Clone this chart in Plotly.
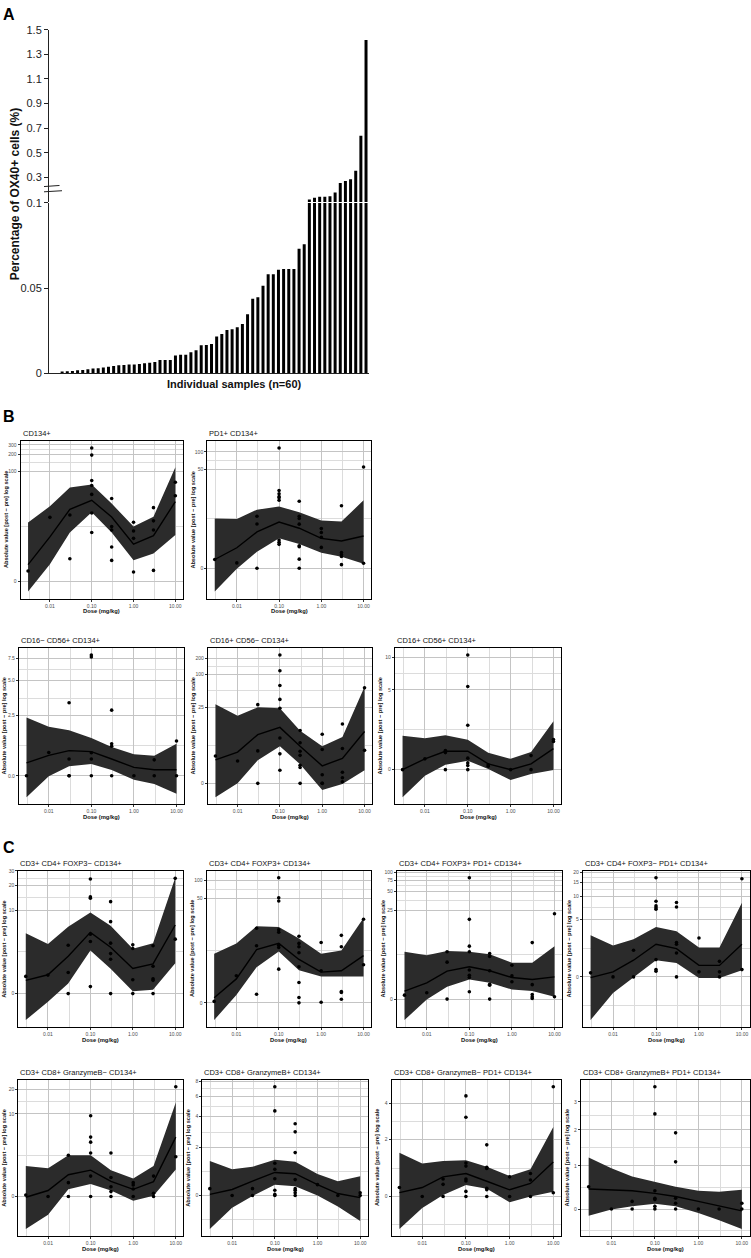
import numpy as np
import plotly.graph_objects as go

W, H = 751, 1258
FONT = "Liberation Sans, Arial, Helvetica, sans-serif"

# ---------------- Panel A data ----------------
ox40_percent = [0.0012, 0.0013, 0.0015, 0.0019, 0.0021, 0.0025, 0.0029, 0.0031, 0.0035, 0.0040,
                0.0044, 0.0048, 0.0050, 0.0052, 0.0052, 0.0056, 0.0060, 0.0063, 0.0067, 0.0079,
                0.0079, 0.0079, 0.0106, 0.0109, 0.0109, 0.0125, 0.0136, 0.0165, 0.0167, 0.0173,
                0.0217, 0.0232, 0.0255, 0.0259, 0.0271, 0.0290, 0.0347, 0.0438, 0.0447, 0.0514,
                0.0582, 0.0582, 0.0608, 0.0612, 0.0612, 0.0612, 0.0731, 0.0758,
                0.120, 0.133, 0.141, 0.141, 0.147, 0.176, 0.254, 0.270, 0.284, 0.354, 0.638, 1.416]
sample_index = list(range(60))
a_low_ticks = [0, 0.05, 0.1]
a_low_text = ["0", "0.05", "0.1"]
a_high_ticks = [0.3, 0.5, 0.7, 0.9, 1.1, 1.3, 1.5]
a_high_text = ["0.3", "0.5", "0.7", "0.9", "1.1", "1.3", "1.5"]

# ---------------- Dose-response panels ----------------
doses = [0.003, 0.01, 0.03, 0.1, 0.3, 1, 3, 10]
dose_ticks = [0.01, 0.1, 1, 10]
dose_ticktext = ["0.01", "0.10", "1.00", "10.00"]

# B1
cd134_title = "CD134+"
cd134_ticks = [0, 100, 200, 300]
cd134_pts = [[0.9], [14.5], [16, 2.2], [264, 196, 68, 55, 38, 17.4, 7.6], [32, 9.8, 8.5, 4.0, 2.0],
             [11.8, 8.1, 5.9, 0.81], [21.8, 12.5, 8.5, 0.96], [63, 36]]
cd134_fit = [1.53, 6.3, 20.3, 29.7, 14.7, 4.56, 6.64, 28.1]
cd134_lo = [-0.87, 1.56, 7.6, 17.9, 7.6, 2.03, 2.91, 6.85]
cd134_hi = [11.7, 23.1, 50.9, 57.7, 25.9, 9.8, 14.9, 118.5]

# B2
pd1_title = "PD1+ CD134+"
pd1_ticks = [0, 50, 100]
pd1_pts = [[0.71], [0.43], [7.7, 5.6, 0], [117, 21.7, 19.0, 17.0, 16.2, 14.7, 2.74, 2.44, 2.19],
           [14.1, 7.7, 7.05, 5.57, 2.03, 1.92, 0.74, 0], [4.6, 3.87, 3.12, 1.85],
           [11.8, 1.34, 1.12, 0.97, 0.29], [55, 0.4]]
pd1_fit = [0.71, 1.81, 3.98, 6.06, 4.68, 2.97, 2.6, 3.32]
pd1_lo = [-2.12, -0.03, 1.4, 2.97, 2.23, 1.31, 0.94, 0.37]
pd1_hi = [7.05, 6.87, 10.1, 11.5, 9.05, 6.5, 6.2, 14.7]

# B3
nk56_title = "CD16\u2212 CD56+ CD134+"
nk56_ticks = [0, 2.5, 5, 7.5]
nk56_ticktext = ["0.0", "2.5", "5.0", "7.5"]
nk56_pts = [[0], [0.83], [3.26, 0.59, 0, 0], [8.0, 7.7, 0.82, 0.59, 0], [2.8, 1.17, 1.07, 0],
            [0], [0.56, 0], [1.28, 0]]
nk56_fit = [0.45, 0.72, 0.90, 0.86, 0.59, 0.29, 0.21, 0.21]
nk56_lo = [-0.76, -0.02, 0.33, 0.41, 0.2, -0.14, -0.29, -0.63]
nk56_hi = [2.38, 1.91, 1.75, 1.41, 1.04, 0.76, 0.71, 1.17]

# B4
nk16_title = "CD16+ CD56\u2212 CD134+"
nk16_ticks = [0, 25, 100, 200]
nk16_pts = [[2.87], [2.19], [28, 3.7, 0], [230, 118, 63, 35, 24, 6.7, 3.2, 1.17],
            [9.3, 5.4, 3.65, 2.97, 1.69, 1.44, 0], [7.86, 3.96, 0.74, 0, 0],
            [12.3, 4.15, 0.98, 0.48, 0.14], [57, 3.8]]
nk16_fit = [2.33, 3.5, 7.75, 10.6, 4.6, 1.62, 2.54, 8.9]
nk16_lo = [-1.24, 0, 2.29, 4.6, 1.8, -0.56, -0.06, 1.17]
nk16_hi = [28.4, 17.4, 25, 24, 9.2, 4.6, 7.0, 59.5]

# B5
nkdp_title = "CD16+ CD56+ CD134+"
nkdp_ticks = [0, 5, 10]
nkdp_pts = [[0], [0.45], [0.81, 0.72, 0], [10.6, 5.4, 2.1, 0.48, 0.28, 0.17, 0], [0.2, 0.14],
            [0], [0.59, 0], [1.33, 1.23]]
nkdp_fit = [0, 0.45, 0.78, 0.78, 0.24, 0, 0.24, 0.9]
nkdp_lo = [-1.2, -0.25, 0.2, 0.37, 0.03, -0.43, -0.18, -0.01]
nkdp_hi = [1.52, 1.39, 1.55, 1.31, 0.71, 0.45, 0.75, 2.35]

# C1
teff_title = "CD3+ CD4+ FOXP3\u2212 CD134+"
teff_ticks = [0, 10, 20, 30]
teff_pts = [[0.99], [1.07], [3.55, 1.24, 0], [23.9, 14.5, 14.0, 5.0, 4.0, 0.39],
            [12.7, 7.2, 3.8, 2.7, 2.2, 0], [3.6, 3.2, 0.79, 0], [3.5, 1.67, 0.85, 0.75, 0], [24.3, 4.3]]
teff_fit = [0.75, 1.09, 2.46, 5.28, 3.34, 1.51, 1.84, 6.54]
teff_lo = [-1.6, -0.46, 0.56, 2.99, 1.49, 0.13, 0.22, 1.88]
teff_hi = [5.13, 3.7, 6.2, 9.35, 6.4, 3.17, 3.79, 24.7]

# C2
treg_title = "CD3+ CD4+ FOXP3+ CD134+"
treg_ticks = [0, 50, 100]
treg_pts = [[0.11], [2.41], [16.4, 8.4, 0.66], [109, 51.5, 45.6, 15.5, 14.1, 8.6, 7.85, 3.26],
            [12.1, 9.2, 8.06, 6.4, 3.6, 1.68, 0.4, 0], [9.5, 3.03, 0.05],
            [12.5, 8.06, 0.88, 0.8, 0.27], [23, 3.95]]
treg_fit = [0.38, 2.05, 7.23, 9.2, 4.9, 2.85, 3.03, 5.7]
treg_lo = [-1.38, 0.6, 3.55, 6.7, 3.1, 2.33, 2.33, 2.33]
treg_hi = [6.14, 9.2, 17.6, 17.1, 11.1, 6.14, 7.0, 24]

# C3
tregpd1_title = "CD3+ CD4+ FOXP3+ PD1+ CD134+"
tregpd1_ticks = [0, 25, 50, 75, 100]
tregpd1_pts = [[0.29], [0.46], [5.4, 3.56, 0], [81.6, 18.0, 6.68, 5.4, 2.52, 1.96, 1.73, 0.54],
               [5.04, 4.5, 2.44, 1.13, 1.05, 0], [3.13, 1.89, 1.34], [7.64, 1.1, 0.34, 0.17, 0.05],
               [22.1, 0.17]]
tregpd1_fit = [0.59, 1.25, 2.4, 2.92, 2.44, 1.73, 1.55, 1.8]
tregpd1_lo = [-1.67, -0.02, 0.92, 1.55, 1.25, 0.71, 0.59, 0.17]
tregpd1_hi = [5.4, 4.7, 5.55, 5.4, 4.9, 3.46, 3.46, 6.68]

# C4
teffpd1_title = "CD3+ CD4+ FOXP3\u2212 PD1+ CD134+"
teffpd1_ticks = [0, 5, 10, 15, 20]
teffpd1_pts = [[0.23], [0], [1.68, 0], [17.0, 8.6, 7.5, 7.1, 6.8, 1.03, 0.42, 0.33],
               [8.3, 7.25, 2.3, 2.15, 1.48, 0], [2.72, 0.29], [0.92, 0.29, 0], [16.5, 0.42]]
teffpd1_fit = [-0.04, 0.29, 0.99, 2.15, 1.8, 0.67, 0.67, 2.15]
teffpd1_lo = [-3.15, -0.95, -0.04, 0.99, 0.82, -0.06, -0.06, 0.38]
teffpd1_hi = [2.98, 2.04, 2.6, 3.92, 3.43, 1.88, 1.88, 8.25]

# C5
cd8gn_title = "CD3+ CD8+ GranzymeB\u2212 CD134+"
cd8gn_ticks = [0, 10, 20]
cd8gn_pts = [[0.09], [0], [2.87, 0.8, 0], [9.5, 5.1, 4.37, 3.1, 1.21, 0], [3.1, 1.12, 0.56, 0.28, 0],
             [0.8, 0.66, 0.43, 0], [1.21, 0.19, 0], [21.6, 2.72]]
cd8gn_fit = [-0.04, 0.34, 1.3, 1.62, 0.88, 0.41, 0.86, 5.1]
cd8gn_lo = [-2.08, -1.06, 0.41, 0.72, 0.34, -0.24, 0.04, 1.67]
cd8gn_hi = [1.92, 1.75, 2.87, 2.87, 1.62, 1.06, 1.92, 13.9]

# C6
cd8gp_title = "CD3+ CD8+ GranzymeB+ CD134+"
cd8gp_ticks = [0, 2, 4, 6, 8]
cd8gp_pts = [[0.25], [0], [0.25, 0], [7.2, 4.5, 1.25, 1.0, 0.62, 0.19, 0.04, 0],
             [3.46, 2.9, 1.74, 0.59, 0.25, 0.19, 0.1, 0], [0.4], [0], [0.1, 0]]
cd8gp_fit = [0.04, 0.22, 0.53, 0.87, 0.82, 0.4, 0.07, -0.08]
cd8gp_lo = [-1.31, -0.45, -0.02, 0.4, 0.34, 0, -0.41, -0.97]
cd8gp_hi = [1.35, 1.0, 1.1, 1.4, 1.32, 0.81, 0.53, 0.72]

# C7
cd8gnpd1_title = "CD3+ CD8+ GranzymeB\u2212 PD1+ CD134+"
cd8gnpd1_ticks = [0, 2, 4]
cd8gnpd1_pts = [[0.28], [0], [0.55, 0.38, 0], [4.55, 3.13, 1.09, 0.98, 0.55, 0.49, 0.16, 0],
                [1.78, 0.94, 0.9, 0.26, 0.21, 0], [0.62, 0], [0.73, 0.52, 0], [5.3, 0.12]]
cd8gnpd1_fit = [0.12, 0.28, 0.62, 0.73, 0.48, 0.21, 0.41, 1.12]
cd8gnpd1_lo = [-1.05, -0.36, 0.05, 0.36, 0.24, -0.18, 0, 0.15]
cd8gnpd1_hi = [1.46, 1.07, 1.16, 1.19, 0.96, 0.65, 0.87, 2.6]

# C8
cd8gppd1_title = "CD3+ CD8+ GranzymeB+ PD1+ CD134+"
cd8gppd1_ticks = [0, 1, 2, 3]
cd8gppd1_pts = [[0.5], [0], [0.17, 0], [3.65, 2.54, 0.41, 0.24, 0.21, 0.06, 0],
                [1.91, 1.1, 0.24, 0.13, 0], [0], [0], [0.13, 0]]
cd8gppd1_fit = [0.45, 0.43, 0.41, 0.35, 0.28, 0.17, 0.07, -0.04]
cd8gppd1_lo = [-0.15, -0.01, 0.06, 0.12, 0.06, -0.09, -0.25, -0.45]
cd8gppd1_hi = [1.21, 0.94, 0.74, 0.62, 0.5, 0.41, 0.39, 0.43]

panels_data = [
    (cd134_title, cd134_ticks, None, cd134_pts, cd134_fit, cd134_lo, cd134_hi),
    (pd1_title, pd1_ticks, None, pd1_pts, pd1_fit, pd1_lo, pd1_hi),
    (nk56_title, nk56_ticks, nk56_ticktext, nk56_pts, nk56_fit, nk56_lo, nk56_hi),
    (nk16_title, nk16_ticks, None, nk16_pts, nk16_fit, nk16_lo, nk16_hi),
    (nkdp_title, nkdp_ticks, None, nkdp_pts, nkdp_fit, nkdp_lo, nkdp_hi),
    (teff_title, teff_ticks, None, teff_pts, teff_fit, teff_lo, teff_hi),
    (treg_title, treg_ticks, None, treg_pts, treg_fit, treg_lo, treg_hi),
    (tregpd1_title, tregpd1_ticks, None, tregpd1_pts, tregpd1_fit, tregpd1_lo, tregpd1_hi),
    (teffpd1_title, teffpd1_ticks, None, teffpd1_pts, teffpd1_fit, teffpd1_lo, teffpd1_hi),
    (cd8gn_title, cd8gn_ticks, None, cd8gn_pts, cd8gn_fit, cd8gn_lo, cd8gn_hi),
    (cd8gp_title, cd8gp_ticks, None, cd8gp_pts, cd8gp_fit, cd8gp_lo, cd8gp_hi),
    (cd8gnpd1_title, cd8gnpd1_ticks, None, cd8gnpd1_pts, cd8gnpd1_fit, cd8gnpd1_lo, cd8gnpd1_hi),
    (cd8gppd1_title, cd8gppd1_ticks, None, cd8gppd1_pts, cd8gppd1_fit, cd8gppd1_lo, cd8gppd1_hi),
]

# panel boxes in pixels: left, right, top, bottom
panel_boxes = [
    (20.7, 182.7, 439, 598.5), (207.3, 371, 439, 598.5),
    (19, 184, 648, 806), (208, 372, 648, 806), (395, 561, 648, 806),
    (18.3, 182.7, 873, 1031), (206.7, 371, 873, 1031), (397, 562, 873, 1031), (583, 749.5, 873, 1031),
    (18.3, 183.3, 1084, 1242), (202.3, 367.7, 1084, 1242), (391.7, 561, 1084, 1242), (581, 749.5, 1084, 1242),
]


def fx(px):
    return px / W


def fy(py):
    return 1 - py / H


def tr(v):
    return np.arcsinh(np.asarray(v, dtype=float) / 2.0)


def minor_breaks(major, lo, hi):
    b = list(major)
    bd = b[1] - b[0]
    if lo < b[0]:
        b = [b[0] - bd] + b
    if hi > b[-1]:
        b = b + [b[-1] + bd]
    mids = [(a + c) / 2 for a, c in zip(b[:-1], b[1:])]
    return [m for m in mids if lo <= m <= hi]


GRID_MAJ = "#c4c4c4"
GRID_MIN = "#dcdcdc"
RIBBON = "#2b2b2b"

fig = go.Figure()
layout = dict(width=W, height=H, margin=dict(l=0, r=0, t=0, b=0), autosize=False,
              paper_bgcolor="white", plot_bgcolor="white", showlegend=False,
              font=dict(family=FONT, color="black"), barmode="overlay")
annotations = []
shapes = []

# ---------------- Panel A ----------------
fig.add_trace(go.Bar(x=sample_index, y=ox40_percent, width=0.58, marker=dict(color="black", line_width=0),
                     xaxis="x", yaxis="y", hoverinfo="skip"))
fig.add_trace(go.Bar(x=sample_index, y=ox40_percent, width=0.58, marker=dict(color="black", line_width=0),
                     xaxis="x", yaxis="y2", hoverinfo="skip"))
layout["xaxis"] = dict(domain=[fx(49), fx(368.6)], range=[-2.55, 59.5], anchor="y",
                       showline=True, linecolor="#222", linewidth=1, showticklabels=False,
                       ticks="", showgrid=False, zeroline=False)
axA = dict(anchor="x", showline=True, linecolor="#222", linewidth=1, ticks="outside", ticklen=4,
           tickcolor="#222", tickfont=dict(size=11, color="#222", family=FONT), showgrid=False, zeroline=False,
           tickmode="array")
layout["yaxis"] = dict(axA, domain=[fy(371), fy(198.8)], range=[0, 0.1],
                       tickvals=a_low_ticks, ticktext=a_low_text)
layout["yaxis2"] = dict(axA, domain=[fy(197.8), fy(24)], range=[0.1, 1.5],
                        tickvals=a_high_ticks, ticktext=a_high_text)
shapes.append(dict(type="line", xref="paper", yref="paper", x0=fx(44), y0=fy(182.3), x1=fx(59.5), y1=fy(181.2),
                   line=dict(color="#222", width=1)))
shapes.append(dict(type="line", xref="paper", yref="paper", x0=fx(44), y0=fy(187.6), x1=fx(62), y1=fy(186.5),
                   line=dict(color="#222", width=1)))
annotations.append(dict(text="<b>Percentage of OX40+ cells (%)</b>", x=fx(15), y=fy(190), xref="paper",
                        yref="paper", textangle=-90, showarrow=False, xanchor="center", yanchor="middle",
                        font=dict(size=12, family=FONT, color="#111")))
annotations.append(dict(text="<b>Individual samples (n=60)</b>", x=fx(235), y=fy(381.5), xref="paper",
                        yref="paper", showarrow=False, xanchor="center", yanchor="middle",
                        font=dict(size=11, family=FONT, color="#111")))
for lab, ytop in (("A", -2), ("B", 404), ("C", 839)):
    annotations.append(dict(text="<b>%s</b>" % lab, x=fx(1), y=fy(ytop), xref="paper", yref="paper",
                            showarrow=False, xanchor="left", yanchor="top",
                            font=dict(size=16, family=FONT, color="black")))

# ---------------- Dose panels ----------------
logd = np.log10(doses)
span = logd.max() - logd.min()
x_range = [logd.min() - 0.05 * span, logd.max() + 0.05 * span]
x_minor = [10 ** v for v in (-2.5, -1.5, -0.5, 0.5) if x_range[0] <= v <= x_range[1]]

for k, (data, box) in enumerate(zip(panels_data, panel_boxes)):
    title, ticks, ticktext, pts, fit, lo, hi = data
    l, r, t, b = box
    xi, yi = k + 2, k + 3
    xname, yname = "x%d" % xi, "y%d" % yi

    pts_x = [d for d, vals in zip(doses, pts) for _ in vals]
    pts_y = [v for vals in pts for v in vals]

    all_u = np.concatenate([tr(pts_y), tr(fit), tr(lo), tr(hi)])
    umin, umax = all_u.min(), all_u.max()
    us = umax - umin
    y_range = [umin - 0.05 * us, umax + 0.05 * us]
    major_u = list(tr(ticks))
    y_minor = minor_breaks(major_u, y_range[0], y_range[1])

    fig.add_trace(go.Scatter(x=doses + doses[::-1], y=list(tr(hi)) + list(tr(lo))[::-1], fill="toself",
                             fillcolor=RIBBON, line=dict(width=0, color=RIBBON), mode="lines",
                             xaxis=xname, yaxis=yname, hoverinfo="skip"))
    fig.add_trace(go.Scatter(x=doses, y=tr(fit), mode="lines", line=dict(color="black", width=1.4),
                             xaxis=xname, yaxis=yname, hoverinfo="skip"))
    fig.add_trace(go.Scatter(x=pts_x, y=tr(pts_y), mode="markers", marker=dict(color="black", size=3.6),
                             xaxis=xname, yaxis=yname, hoverinfo="skip"))

    common = dict(showline=True, mirror=True, linecolor="black", linewidth=1.2, ticks="outside", ticklen=2,
                  tickwidth=0.8, tickcolor="#333", tickfont=dict(size=5, color="#4d4d4d", family=FONT),
                  showgrid=True, gridcolor=GRID_MAJ, gridwidth=1, zeroline=False, tickmode="array")
    layout["xaxis%d" % xi] = dict(common, domain=[fx(l), fx(r)], anchor=yname, type="log", range=x_range,
                                  tickvals=dose_ticks, ticktext=dose_ticktext,
                                  minor=dict(tickmode="array", tickvals=x_minor, showgrid=True,
                                             gridcolor=GRID_MIN, gridwidth=0.8, ticks=""))
    layout["yaxis%d" % yi] = dict(common, domain=[fy(b), fy(t)], anchor=xname, range=y_range,
                                  tickvals=major_u,
                                  ticktext=ticktext if ticktext else [("%g" % v) for v in ticks],
                                  minor=dict(tickmode="array", tickvals=y_minor, showgrid=True,
                                             gridcolor=GRID_MIN, gridwidth=0.8, ticks=""))

    annotations.append(dict(text=title, x=fx(l), y=fy(t - 1), xref="paper", yref="paper", showarrow=False,
                            xanchor="left", yanchor="bottom", font=dict(size=7.5, family=FONT, color="#111")))
    annotations.append(dict(text="<b>Absolute value [post \u2212 pre] log scale</b>", x=fx(l - 14.5),
                            y=fy((t + b) / 2), xref="paper", yref="paper", textangle=-90, showarrow=False,
                            xanchor="center", yanchor="middle", font=dict(size=5.6, family=FONT, color="#111")))
    annotations.append(dict(text="<b>Dose (mg/kg)</b>", x=fx((l + r) / 2), y=fy(b + 12.5), xref="paper",
                            yref="paper", showarrow=False, xanchor="center", yanchor="middle",
                            font=dict(size=5.8, family=FONT, color="#111")))

layout["annotations"] = annotations
layout["shapes"] = shapes
fig.update_layout(**layout)
fig.write_html("out.html", config={"responsive": False, "displayModeBar": False})

# remove the browser's default page margin so the figure sits at the window's top-left corner
with open("out.html", "r", encoding="utf-8") as fh:
    html = fh.read()
html = html.replace("<head>", "<head><style>html,body{margin:0;padding:0;overflow:hidden;background:#fff}</style>", 1)
with open("out.html", "w", encoding="utf-8") as fh:
    fh.write(html)
